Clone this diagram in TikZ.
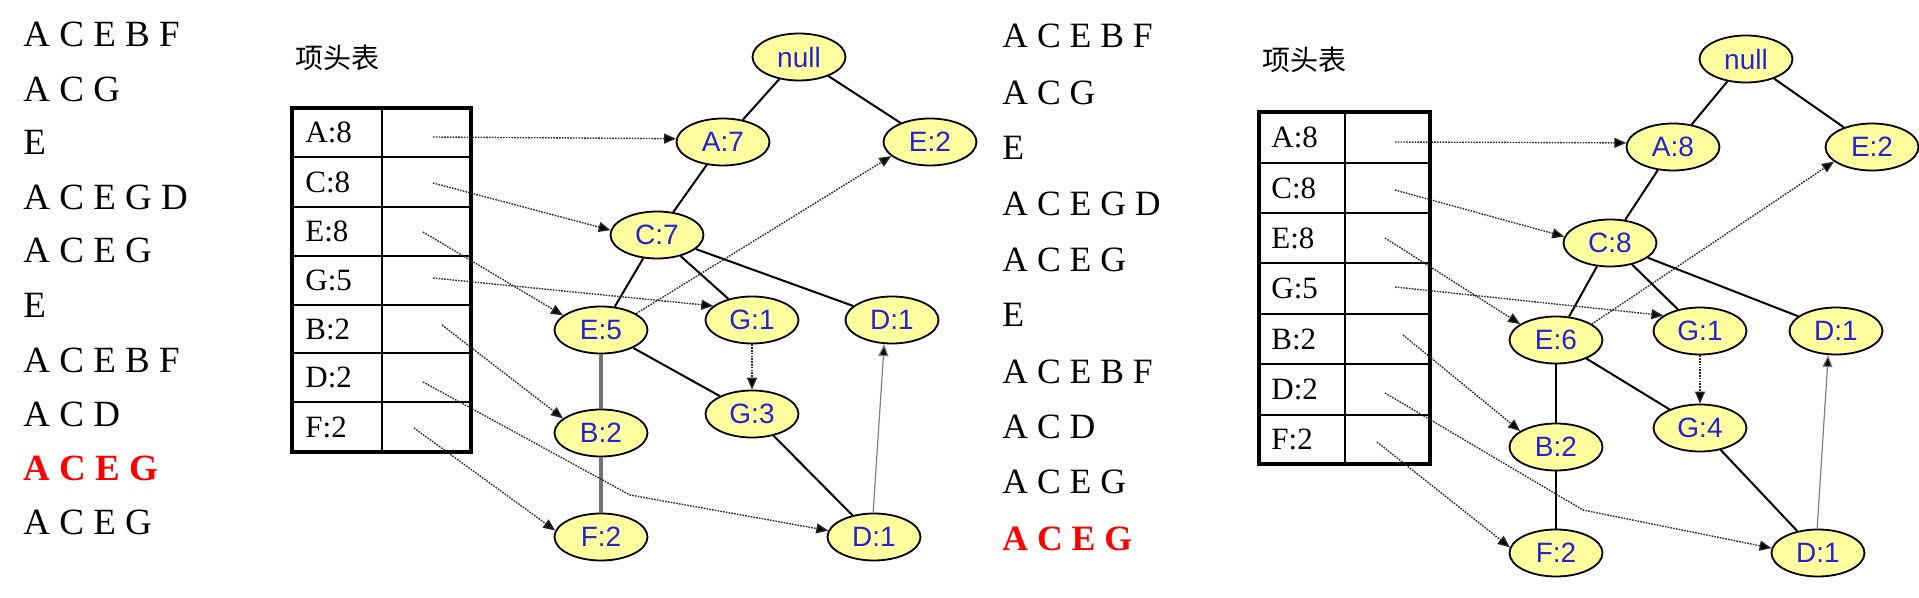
\documentclass[tikz,border=0pt]{standalone}
\usepackage{fontspec}
\setmainfont{Liberation Serif}
\newfontfamily\sansf{Liberation Sans}
\newfontfamily\cjk{Noto Sans CJK SC}
\usetikzlibrary{shapes.geometric,arrows.meta,calc}
\definecolor{nodefill}{RGB}{255,255,160}
\definecolor{nodetext}{RGB}{35,35,210}
\definecolor{linkgray}{RGB}{40,40,40}
\definecolor{edgegray}{RGB}{115,115,115}
\definecolor{hlred}{RGB}{255,0,0}
\begin{document}
\begin{tikzpicture}[x=0.5pt,y=-0.5pt,
  fpnode/.style={ellipse,draw=black,line width=0.9pt,fill=nodefill,text=nodetext,minimum width=46.5pt,minimum height=23.5pt,inner sep=0pt,font=\sansf\fontsize{14}{15}\selectfont},
  treeedge/.style={line width=1pt,black},
  greyedge/.style={line width=1.6pt,edgegray},
  linkarrow/.style={dash pattern=on 0.8pt off 0.6pt,line width=0.7pt,linkgray,-{Triangle[length=6pt,width=5pt,fill=black]}},
  thinarrow/.style={line width=0.6pt,gray,-{Triangle[length=6pt,width=5pt,fill=black]}},
  listtext/.style={anchor=base west,inner sep=0pt,font=\fontsize{18.5}{20}\selectfont},
  listtextr/.style={anchor=base west,inner sep=0pt,font=\fontsize{17.8}{20}\selectfont},
  celltext/.style={anchor=west,inner sep=0pt,font=\fontsize{15.5}{16}\selectfont},
  titletext/.style={anchor=west,inner sep=0pt,font=\cjk\fontsize{14}{15}\selectfont},
  outer/.style={line width=1.6pt,black},
  inner/.style={line width=0.7pt,black},
]
\useasboundingbox[fill=white] (0,0) rectangle (1919,598);

% ---------------- left transaction list
\node[listtext] (l1) at (23,47) {A C E B F};
\node[listtext] (l2) at (23,102) {A C G};
\node[listtext] (l3) at (23,155) {E};
\node[listtext] (l4) at (23,210) {A C E G D};
\node[listtext] (l5) at (23,263) {A C E G};
\node[listtext] (l6) at (23,318) {E};
\node[listtext] (l7) at (23,373) {A C E B F};
\node[listtext] (l8) at (23,427) {A C D};
\node[listtext,text=hlred,font=\bfseries\fontsize{18.5}{20}\selectfont] (l9) at (23,481) {A C E G};
\node[listtext] (l10) at (23,535) {A C E G};

% ---------------- left header table
\node[titletext] (lt) at (295,57.5) {项头表};
\foreach \y in {157,207,256,305,353,402} \draw[inner] (292,\y) -- (471,\y);
\draw[inner] (382,108) -- (382,452);
\draw[outer] (292,108) rectangle (471,452);
\node[celltext] (la) at (305,132.5) {A:8};
\node[celltext] (lc) at (305,182) {C:8};
\node[celltext] (le) at (305,231.5) {E:8};
\node[celltext] (lg) at (305,280.5) {G:5};
\node[celltext] (lb) at (305,329) {B:2};
\node[celltext] (ld) at (305,377.5) {D:2};
\node[celltext] (lf) at (305,427) {F:2};
\coordinate (pa) at (433,137);
\coordinate (pc) at (433,183);
\coordinate (pe) at (423,232);
\coordinate (pg) at (433,278);
\coordinate (pb) at (442,325);
\coordinate (pd) at (423,382);
\coordinate (pdk) at (630,495);
\coordinate (pf) at (414,428);

% ---------------- left tree
\node[fpnode] (Lnull) at (799,57) {null};
\node[fpnode] (LA) at (723,142) {A:7};
\node[fpnode] (LE2) at (930,142) {E:2};
\node[fpnode] (LC) at (657,235) {C:7};
\node[fpnode] (LE) at (601,330) {E:5};
\node[fpnode] (LG1) at (752,320) {G:1};
\node[fpnode] (LD1) at (892,320) {D:1};
\node[fpnode] (LG3) at (752,414) {G:3};
\node[fpnode] (LB) at (601,433) {B:2};
\node[fpnode] (LF) at (601,537) {F:2};
\node[fpnode] (LD2) at (874,537) {D:1};

\draw[treeedge] (Lnull) -- (LA);
\draw[treeedge] (Lnull) -- (LE2);
\draw[treeedge] (LA) -- (LC);
\draw[treeedge] (LC) -- (LE);
\draw[treeedge] (LC) -- (LG1);
\draw[treeedge] (LC) -- (LD1);
\draw[greyedge] (LE) -- (LB);
\draw[greyedge] (LB) -- (LF);
\draw[treeedge] (LE) -- (LG3);
\draw[treeedge] (LG3) -- (LD2);

\draw[linkarrow] (pa) -- (LA.176);
\draw[linkarrow] (pc) -- (LC.174);
\draw[linkarrow] (pe) -- (LE.159);
\draw[linkarrow] (pg) -- (LG1.160);
\draw[linkarrow] (pb) -- (LB.159);
\draw[linkarrow] (pd) -- (pdk) -- (LD2.172);
\draw[linkarrow] (pf) -- (LF.172);
\draw[linkarrow] (LE.25) -- (LE2.200);
\draw[linkarrow] (LG1.south) -- (LG3.north);
\draw[thinarrow] (LD2.92) -- (LD1.252);

% ---------------- right transaction list
\node[listtextr] (r1) at (1002,48) {A C E B F};
\node[listtextr] (r2) at (1002,105) {A C G};
\node[listtextr] (r3) at (1002,160) {E};
\node[listtextr] (r4) at (1002,216) {A C E G D};
\node[listtextr] (r5) at (1002,272) {A C E G};
\node[listtextr] (r6) at (1002,327) {E};
\node[listtextr] (r7) at (1002,384) {A C E B F};
\node[listtextr] (r8) at (1002,439) {A C D};
\node[listtextr] (r9) at (1002,494) {A C E G};
\node[listtextr,text=hlred,font=\bfseries\fontsize{17.8}{20}\selectfont] (r10) at (1002,551) {A C E G};

% ---------------- right header table
\node[titletext] (rt) at (1262,59.5) {项头表};
\foreach \y in {163,213,263,314,364,415} \draw[inner] (1259,\y) -- (1430,\y);
\draw[inner] (1345,112) -- (1345,464);
\draw[outer] (1259,112) rectangle (1430,464);
\node[celltext] (ra) at (1271,137.5) {A:8};
\node[celltext] (rc) at (1271,188) {C:8};
\node[celltext] (re) at (1271,238) {E:8};
\node[celltext] (rg) at (1271,288.5) {G:5};
\node[celltext] (rb) at (1271,339) {B:2};
\node[celltext] (rd) at (1271,389.5) {D:2};
\node[celltext] (rf) at (1271,439.5) {F:2};
\coordinate (qa) at (1395,142);
\coordinate (qc) at (1395,190);
\coordinate (qe) at (1385,238);
\coordinate (qg) at (1395,287);
\coordinate (qb) at (1403,335);
\coordinate (qd) at (1385,393);
\coordinate (qdk) at (1583,510);
\coordinate (qf) at (1377,442);

% ---------------- right tree
\node[fpnode] (Rnull) at (1746,59) {null};
\node[fpnode] (RA) at (1673,147) {A:8};
\node[fpnode] (RE2) at (1872,147) {E:2};
\node[fpnode] (RC) at (1610,243) {C:8};
\node[fpnode] (RE) at (1556,340) {E:6};
\node[fpnode] (RG1) at (1700,331) {G:1};
\node[fpnode] (RD1) at (1836,331) {D:1};
\node[fpnode] (RG4) at (1700,428) {G:4};
\node[fpnode] (RB) at (1556,447) {B:2};
\node[fpnode] (RF) at (1556,553) {F:2};
\node[fpnode] (RD2) at (1818,553) {D:1};

\draw[treeedge] (Rnull) -- (RA);
\draw[treeedge] (Rnull) -- (RE2);
\draw[treeedge] (RA) -- (RC);
\draw[treeedge] (RC) -- (RE);
\draw[treeedge] (RC) -- (RG1);
\draw[treeedge] (RC) -- (RD1);
\draw[treeedge] (RE) -- (RB);
\draw[treeedge] (RB) -- (RF);
\draw[treeedge] (RE) -- (RG4);
\draw[treeedge] (RG4) -- (RD2);

\draw[linkarrow] (qa) -- (RA.175);
\draw[linkarrow] (qc) -- (RC.172);
\draw[linkarrow] (qe) -- (RE.156);
\draw[linkarrow] (qg) -- (RG1.157);
\draw[linkarrow] (qb) -- (RB.156);
\draw[linkarrow] (qd) -- (qdk) -- (RD2.174);
\draw[linkarrow] (qf) -- (RF.173);
\draw[linkarrow] (RE.24) -- (RE2.201);
\draw[linkarrow] (RG1.south) -- (RG4.north);
\draw[thinarrow] (RD2.92) -- (RD1.252);
\end{tikzpicture}
\end{document}
